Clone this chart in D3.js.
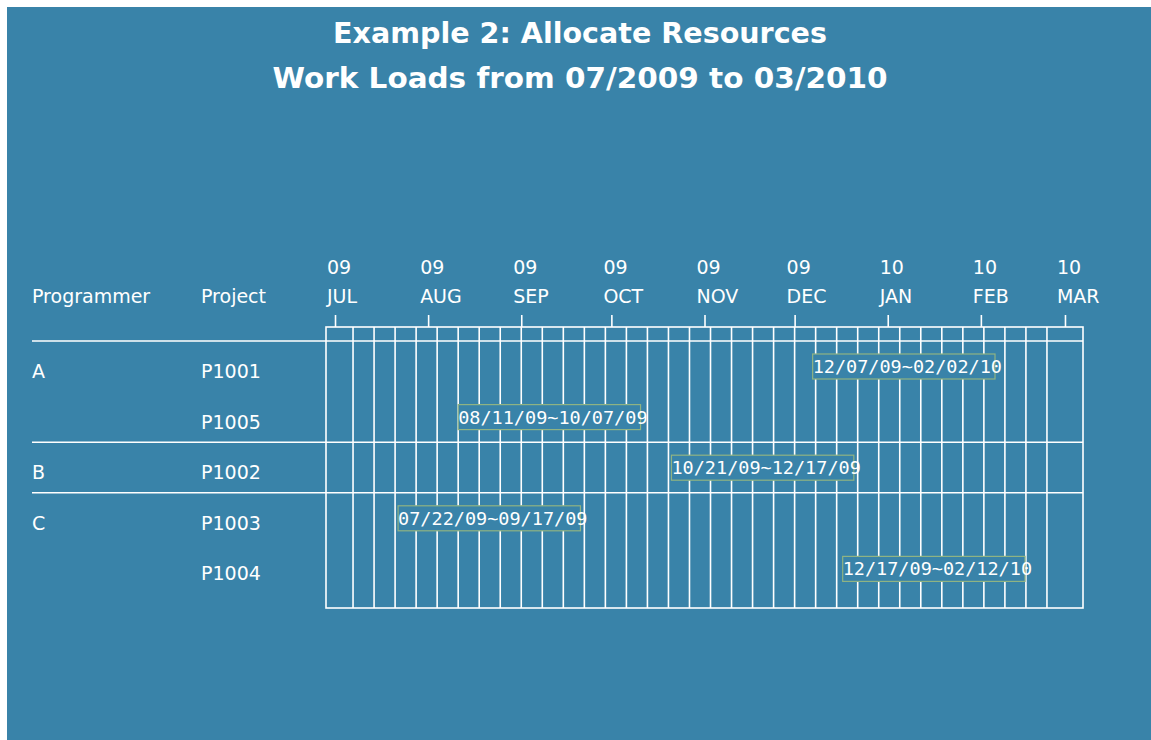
<!DOCTYPE html>
<html>
<head>
<meta charset="utf-8">
<script src="https://cdn.jsdelivr.net/npm/d3@7"></script>
<style>
  html, body { margin: 0; padding: 0; background: #ffffff; }
  svg { display: block; }
</style>
</head>
<body>
<svg id="chart" width="1151" height="740"></svg>
<script>
// ---- data ----
const titleLines = ["Example 2: Allocate Resources", "Work Loads from 07/2009 to 03/2010"];
const columnHeaders = ["Programmer", "Project"];
const programmers = ["A", "A", "B", "C", "C"];
const projects = ["P1001", "P1005", "P1002", "P1003", "P1004"];
const startDates = ["2009-12-07", "2009-08-11", "2009-10-21", "2009-07-22", "2009-12-17"];
const endDates   = ["2010-02-02", "2009-10-07", "2009-12-17", "2009-09-17", "2010-02-12"];
const dateLabels = ["12/07/09~02/02/10", "08/11/09~10/07/09", "10/21/09~12/17/09", "07/22/09~09/17/09", "12/17/09~02/12/10"];
const monthTicks = ["2009-07-01","2009-08-01","2009-09-01","2009-10-01","2009-11-01","2009-12-01","2010-01-01","2010-02-01","2010-03-01"];
const tickYears  = ["09","09","09","09","09","09","10","10","10"];
const tickMonths = ["JUL","AUG","SEP","OCT","NOV","DEC","JAN","FEB","MAR"];
const axisDomain = ["2009-06-28", "2010-03-07"];

// ---- setup ----
const parse = d3.utcParse("%Y-%m-%d");
const svg = d3.select("#chart");
const W = 1151, H = 740;
const BG = "#3983a9";
const FG = "#ffffff";
const font = "'DejaVu Sans', sans-serif";

svg.append("rect").attr("x", 7).attr("y", 7).attr("width", W - 7).attr("height", H - 7).attr("fill", BG);

// title
const titleWidths = [494, 615];
svg.append("g").selectAll("text").data(titleLines).join("text")
  .attr("x", 580).attr("y", (d, i) => 43 + i * 45)
  .attr("text-anchor", "middle")
  .attr("fill", FG)
  .attr("font-family", font)
  .attr("font-weight", "bold")
  .attr("font-size", 28.5)
  .attr("textLength", (d, i) => titleWidths[i])
  .attr("lengthAdjust", "spacingAndGlyphs")
  .text(d => d);

// scales
const frameLeft = 326, frameRight = 1083, frameTop = 327, frameBottom = 608;
const x = d3.scaleUtc().domain(axisDomain.map(parse)).range([frameLeft, frameRight]);
const rowTop = 341, rowBottom = 594;
const y = d3.scaleBand().domain(d3.range(projects.length)).range([rowTop, rowBottom]);

// weekly grid lines
const weeks = d3.utcTuesday.range(parse(monthTicks[0]), parse(monthTicks[monthTicks.length - 1]));
svg.append("g").selectAll("line").data(weeks).join("line")
  .attr("x1", d => x(d)).attr("x2", d => x(d))
  .attr("y1", frameTop).attr("y2", frameBottom)
  .attr("stroke", FG).attr("stroke-width", 1.6);

// frame
svg.append("rect")
  .attr("x", frameLeft).attr("y", frameTop)
  .attr("width", frameRight - frameLeft).attr("height", frameBottom - frameTop)
  .attr("fill", "none").attr("stroke", FG).attr("stroke-width", 1.6);

// axis ticks
const axis = d3.axisTop(x).tickValues(monthTicks.map(parse)).tickSize(12).tickFormat("");
const axisG = svg.append("g").attr("transform", `translate(0,${frameTop})`).call(axis);
axisG.select(".domain").remove();
axisG.selectAll(".tick line").attr("stroke", FG).attr("stroke-width", 1.6);

// tick labels (two lines)
const tickLab = svg.append("g").attr("font-family", font).attr("font-size", 19).attr("fill", FG);
tickLab.selectAll("text.yr").data(monthTicks).join("text").attr("class", "yr")
  .attr("x", d => x(parse(d)) - 8).attr("y", 274)
  .text((d, i) => tickYears[i]);
tickLab.selectAll("text.mo").data(monthTicks).join("text").attr("class", "mo")
  .attr("x", d => x(parse(d)) - 8).attr("y", 303)
  .text((d, i) => tickMonths[i]);

// column headers
const colX = [32, 201];
svg.append("g").selectAll("text").data(columnHeaders).join("text")
  .attr("x", (d, i) => colX[i]).attr("y", 303)
  .attr("font-family", font).attr("font-size", 19).attr("fill", FG)
  .text(d => d);

// horizontal separators: header line + group boundaries
const sepIdx = [0];
programmers.forEach((p, i) => { if (i > 0 && p !== programmers[i - 1]) sepIdx.push(i); });
svg.append("g").selectAll("line").data(sepIdx).join("line")
  .attr("x1", 32).attr("x2", frameRight)
  .attr("y1", d => y(d)).attr("y2", d => y(d))
  .attr("stroke", FG).attr("stroke-width", 1.6);

// row labels
const rows = svg.append("g").attr("font-family", font).attr("font-size", 19).attr("fill", FG);
rows.selectAll("text.prog").data(programmers).join("text").attr("class", "prog")
  .attr("x", colX[0]).attr("y", (d, i) => y(i) + 37)
  .text((d, i) => (i === 0 || d !== programmers[i - 1]) ? d : "");
rows.selectAll("text.proj").data(projects).join("text").attr("class", "proj")
  .attr("x", colX[1]).attr("y", (d, i) => y(i) + 37)
  .text(d => d);

// date labels with boxes, anchored at start date
const bars = svg.append("g");
projects.forEach((p, i) => {
  const g = bars.append("g");
  const t = g.append("text")
    .attr("x", x(parse(startDates[i]))).attr("y", y(i) + 32)
    .attr("font-family", "'DejaVu Sans Mono', monospace").attr("font-size", 18.5)
    .attr("fill", FG).text(dateLabels[i]);
  const bb = t.node().getBBox();
  g.insert("rect", "text")
    .attr("x", x(parse(startDates[i]))).attr("y", y(i) + 13)
    .attr("width", bb.width - 7).attr("height", 25)
    .attr("fill", BG).attr("stroke", "#8fb383").attr("stroke-width", 1.2)
    .attr("data-end", endDates[i]);
});
</script>
</body>
</html>
